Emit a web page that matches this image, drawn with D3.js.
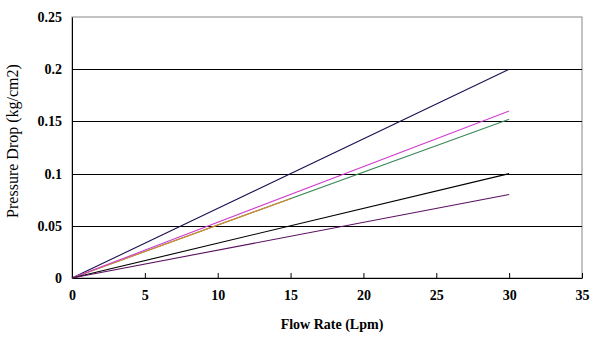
<!DOCTYPE html>
<html><head><meta charset="utf-8">
<script src="https://cdn.jsdelivr.net/npm/d3@7"></script>
<style>
body{margin:0;background:#fff;}
text{font-family:"Liberation Serif","Times New Roman",serif;font-weight:bold;fill:#000;}
</style></head>
<body><svg id="c" width="603" height="340"></svg>
<script>
const xTicks = [0,5,10,15,20,25,30,35];
const yTicks = [0,0.05,0.1,0.15,0.2,0.25];
const yTickLabels = ["0","0.05","0.1","0.15","0.2","0.25"];
const flowNavy = [0,30];     const dpNavy = [0,0.2];
const flowMagenta = [0,30];  const dpMagenta = [0,0.16];
const flowGreen = [0,30];    const dpGreen = [0,0.152];
const flowOrange = [0,15];   const dpOrange = [0,0.076];
const flowBlack = [0,30];    const dpBlack = [0,0.1];
const flowPurple = [0,30];   const dpPurple = [0,0.08];
const series = [
  {x:flowNavy,y:dpNavy,color:"#1a1050"},
  {x:flowGreen,y:dpGreen,color:"#3d8a5c"},
  {x:flowOrange,y:dpOrange,color:"#e08a30"},
  {x:flowMagenta,y:dpMagenta,color:"#d040d0"},
  {x:flowBlack,y:dpBlack,color:"#000000"},
  {x:flowPurple,y:dpPurple,color:"#5a1060"}
];
const svg = d3.select("#c");
const L=72,R=582,T=17,B=278;
const x = d3.scaleLinear().domain([0,35]).range([L,R]);
const y = d3.scaleLinear().domain([0,0.25]).range([B,T]);
svg.append("rect").attr("x",L).attr("y",T).attr("width",R-L).attr("height",B-T)
  .attr("fill","none").attr("stroke","#888").attr("stroke-width",1);
svg.append("g").selectAll("line").data(yTicks.filter(d=>d>0&&d<0.25)).join("line")
  .attr("x1",L).attr("x2",R).attr("y1",d=>Math.round(y(d))+0.5).attr("y2",d=>Math.round(y(d))+0.5)
  .attr("stroke","#000").attr("stroke-width",1);
const xAxis = d3.axisBottom(x).tickValues(xTicks).tickSizeInner(-5).tickSizeOuter(0).tickPadding(12);
const gx = svg.append("g").attr("transform",`translate(0,${B})`).call(xAxis);
gx.select(".domain").attr("stroke","#000");
gx.selectAll("text").attr("font-size","14px").style("font-family","'Liberation Serif',serif").style("font-weight","bold");
const yAxis = d3.axisLeft(y).tickValues(yTicks).tickFormat((d,i)=>yTickLabels[i]).tickSize(0).tickPadding(10);
const gy = svg.append("g").attr("transform",`translate(${L},0)`).call(yAxis);
gy.select(".domain").attr("stroke","#000");
gy.selectAll("text").attr("font-size","14px").style("font-family","'Liberation Serif',serif").style("font-weight","bold");
const line = d3.line().x(d=>x(d[0])).y(d=>y(d[1]));
series.forEach(s=>{
  svg.append("path").datum(s.x.map((v,i)=>[v,s.y[i]])).attr("d",line)
    .attr("fill","none").attr("stroke",s.color).attr("stroke-width",1.1);
});
svg.append("text").attr("x",332).attr("y",329).attr("text-anchor","middle")
  .attr("font-size","14px").text("Flow Rate (Lpm)");
svg.append("text").attr("transform","translate(18,141) rotate(-90)").attr("text-anchor","middle")
  .attr("font-size","16px").style("font-weight","normal").text("Pressure Drop (kg/cm2)");
</script></body></html>
